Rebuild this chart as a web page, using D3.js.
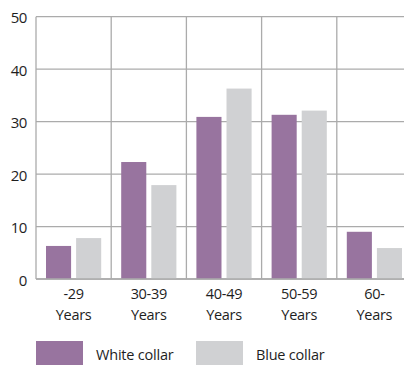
<!DOCTYPE html>
<html>
<head>
<meta charset="utf-8">
<script src="https://cdn.jsdelivr.net/npm/d3@7"></script>
<style>
  html, body { margin: 0; padding: 0; background: #fff; }
  svg { display: block; overflow: hidden; }
  text { font-family: "Open Sans", "Noto Sans", sans-serif; fill: #1e1e1e; }
</style>
</head>
<body>
<svg id="chart" width="404" height="365"></svg>
<script>
// Age groups, each label is split over two lines
const categories = ["-29", "30-39", "40-49", "50-59", "60-"];
const categorySub = "Years";
const seriesNames = ["White collar", "Blue collar"];
const whiteCollar = [6.3, 22.3, 30.9, 31.3, 9.0];
const blueCollar = [7.8, 17.9, 36.3, 32.1, 5.9];
const yTicks = [0, 10, 20, 30, 40, 50];
const colors = ["#98749f", "#d0d1d3"];

const svg = d3.select("#chart");
const plotLeft = 36, plotRight = 412, plotTop = 16.7, plotBottom = 279;

const x = d3.scaleBand().domain(categories).range([plotLeft, plotRight]).padding(0);
const bw = x.bandwidth();
const xSeries = d3.scaleBand().domain(seriesNames).range([10, bw - 10]).paddingInner(1 / 6).paddingOuter(0);
const y = d3.scaleLinear().domain([0, 50]).range([plotBottom, plotTop]);

const grid = svg.append("g").attr("stroke", "#ababab").attr("stroke-width", 1.3);

// horizontal grid lines
grid.selectAll("line.h").data(yTicks).join("line")
  .attr("class", "h")
  .attr("x1", plotLeft).attr("x2", plotRight)
  .attr("y1", d => y(d)).attr("y2", d => y(d));

// vertical grid lines at band edges
const edges = categories.map(c => x(c)).concat([x(categories[categories.length - 1]) + bw]);
grid.selectAll("line.v").data(edges).join("line")
  .attr("class", "v")
  .attr("x1", d => d).attr("x2", d => d)
  .attr("y1", plotTop).attr("y2", plotBottom);

// bars
const rows = categories.map((c, i) => ({ c, vals: [whiteCollar[i], blueCollar[i]] }));
const groups = svg.append("g").selectAll("g").data(rows).join("g")
  .attr("transform", d => `translate(${x(d.c)},0)`);
groups.selectAll("rect").data(d => d.vals.map((v, j) => ({ v, s: seriesNames[j], j }))).join("rect")
  .attr("x", d => xSeries(d.s))
  .attr("width", xSeries.bandwidth())
  .attr("y", d => y(d.v))
  .attr("height", d => y(0) - y(d.v))
  .attr("fill", d => colors[d.j]);

// redraw the baseline on top of the bars
svg.append("line")
  .attr("x1", plotLeft).attr("x2", plotRight)
  .attr("y1", y(0)).attr("y2", y(0))
  .attr("stroke", "#ababab").attr("stroke-width", 1.3);

// y axis labels
const yAxis = d3.axisLeft(y).tickValues(yTicks).tickSize(0).tickPadding(9).tickFormat(d3.format("d"));
const ya = svg.append("g").attr("transform", `translate(${plotLeft},0)`).call(yAxis);
ya.select(".domain").remove();
ya.selectAll("text").attr("font-size", 15).attr("fill", "#1e1e1e")
  .attr("letter-spacing", "-0.4px")
  .style("font-family", '"Open Sans", sans-serif').attr("dy", "0.4em");

// x axis labels, two lines each
const xl = svg.append("g").selectAll("text").data(categories).join("text")
  .attr("x", d => x(d) + bw / 2)
  .attr("text-anchor", "middle")
  .attr("font-size", 14.5)
  .attr("letter-spacing", "-0.3px");
xl.append("tspan").attr("x", d => x(d) + bw / 2).attr("y", 299).text(d => d);
xl.append("tspan").attr("x", d => x(d) + bw / 2).attr("y", 320).text(categorySub);

// legend
const legendX = [36, 196];
const lg = svg.append("g").selectAll("g").data(seriesNames).join("g")
  .attr("transform", (d, i) => `translate(${legendX[i]},341)`);
lg.append("rect").attr("width", 47).attr("height", 24).attr("fill", (d, i) => colors[i]);
lg.append("text").attr("x", 60).attr("y", 18.5).attr("font-size", 14.5)
  .attr("letter-spacing", "-0.2px").text(d => d);
</script>
</body>
</html>
